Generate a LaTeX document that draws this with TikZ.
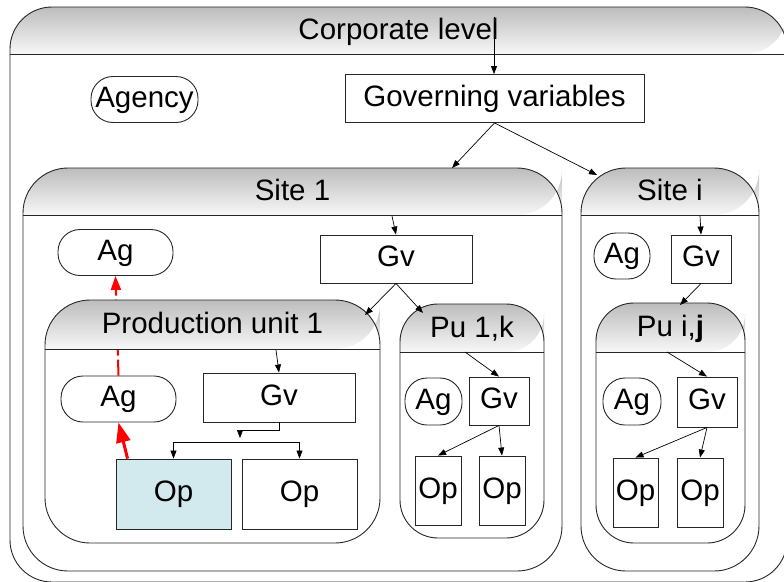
\documentclass[tikz,border=0pt]{standalone}
\usepackage{fontspec}
\setmainfont{Liberation Sans}
\usetikzlibrary{arrows.meta}
\pgfdeclarelayer{background}
\pgfsetlayers{background,main}
\definecolor{hdrtop}{gray}{0.74}
\definecolor{hdrbot}{gray}{0.97}
\definecolor{opblue}{RGB}{210,233,238}
\tikzset{
  >={Triangle[length=8pt,width=6pt]},
  every node/.style={font=\fontsize{29.5}{31}\selectfont,inner sep=0pt,text height=20pt,text depth=5pt},
  frame/.style={draw=black!85,line width=0.9pt},
  gv/.style={frame,minimum width=#1,minimum height=48pt},
  ag/.style={frame,rounded corners=22pt,minimum width=#1,minimum height=46pt},
  op/.style={frame,minimum width=#1,minimum height=70pt},
  link/.style={->,line width=0.7pt},
}
% name, left, top, right, bottom, header line, title, corner radius
\newcommand{\levelbox}[8]{%
  \shade[top color=hdrtop,bottom color=hdrbot] (#2,#6) [rounded corners=#8] -- (#2,#3) -- (#4,#3) -- (#4,#6) [sharp corners] -- cycle;
  \draw[frame,rounded corners=#8] (#2,#3) rectangle (#4,#5);
  \draw[frame] (#2,#6) -- (#4,#6);
  \node (#1) at ({(#2+#4)/2},{(#3+#6)/2+1.5}) {#7};
}
\begin{document}
\begin{tikzpicture}[x=1pt,y=-1pt]
\useasboundingbox (0,0) rectangle (784,581);
\levelbox{corp}{10}{7}{787}{582}{54}{Corporate level}{42pt}
\node[ag=107pt] (agency) at (144.5,99.5) {Agency};
\node[gv=299pt] (gvar) at (494.5,98.5) {Governing variables};
\levelbox{site1}{23}{168}{562}{571}{215}{Site 1}{45pt}
\levelbox{sitei}{581}{168}{759}{571}{215}{Site i}{45pt}
\node[ag=115pt] (sag) at (115.5,252.5) {Ag};
\node[gv=152pt] (sgv) at (396,259) {Gv};
\node[ag=56pt] (iag) at (622,256) {Ag};
\node[gv=60pt] (igv) at (701,259) {Gv};
\levelbox{pu1}{45}{300}{380}{543}{349}{Production unit 1}{45pt}
\levelbox{pu1k}{400}{304}{544}{538}{352}{Pu 1,k}{38pt}
\levelbox{puij}{596}{303}{745}{543}{352}{Pu i,\textbf{j}}{38pt}
\node[ag=115pt] (pag) at (118.5,399) {Ag};
\node[gv=152pt,minimum height=49pt] (pgv) at (279,397.5) {Gv};
\node[op=115pt,fill=opblue] (pop1) at (173.5,494) {Op};
\node[op=115pt] (pop2) at (299.5,494) {Op};
\node[ag=57pt,minimum height=47pt] (kag) at (433.5,401.5) {Ag};
\node[gv=60pt] (kgv) at (499,401) {Gv};
\node[op=46pt,minimum height=69pt] (kop1) at (438,490.5) {Op};
\node[op=46pt,minimum height=69pt] (kop2) at (502,490.5) {Op};
\node[ag=58pt,minimum height=47pt] (jag) at (632,401.5) {Ag};
\node[gv=60pt,minimum height=50pt] (jgv) at (707,402) {Gv};
\node[op=45pt,minimum height=69pt] (jop1) at (635.5,492.5) {Op};
\node[op=46pt,minimum height=69pt] (jop2) at (700,492.5) {Op};
\coordinate (corpout) at (494,17); \coordinate (site1in) at (452,168); \coordinate (siteiin) at (597,175);
\coordinate (site1out) at (392,216); \coordinate (pu1in) at (365,315); \coordinate (pu1kin) at (423,313);
\coordinate (siteiout) at (700,216); \coordinate (puijin) at (680,305);
\coordinate (pu1out) at (276,350); \coordinate (pu1kout) at (465,352); \coordinate (puijout) at (667,352);
\coordinate (pjoin) at (240,438); \coordinate (pbar) at (240,442);
\draw[link] (corpout) -- (gvar.north -| corpout);
\draw[link] (gvar.south) -- (site1in); \draw[link] (gvar.south) -- (siteiin);
\draw[link] (site1out) -- (sgv.north); \draw[link] (sgv.south) -- (pu1in); \draw[link] (sgv.south) -- (pu1kin);
\draw[link] (siteiout) -- (igv.north); \draw[link] (igv.south) -- (puijin);
\draw[link] (pu1out) -- (pgv.north);
\draw[link] (pgv.south) -- ++(0,8) -| (pjoin);
\draw[link] (pbar) -| (pop1.north); \draw[link] (pbar) -| (pop2.north);
\draw[link] (pu1kout) -- (kgv.north); \draw[link] (kgv.south) -- (kop1.north); \draw[link] (kgv.south) -- (kop2.north);
\draw[link] (puijout) -- (jgv.north); \draw[link] (jgv.south) -- (jop1.north); \draw[link] (jgv.south) -- (jop2.north);
\draw[red,line width=3pt,-{Triangle[length=20pt,width=14pt]}] ([xshift=12pt]pop1.north west) -- (pag.south);
\begin{pgfonlayer}{background}
\draw[red,line width=2pt,dash pattern=on 16pt off 4pt,-{Triangle[length=14pt,width=10pt]}] (pag.north) -- (sag.south);
\end{pgfonlayer}
\end{tikzpicture}
\end{document}
